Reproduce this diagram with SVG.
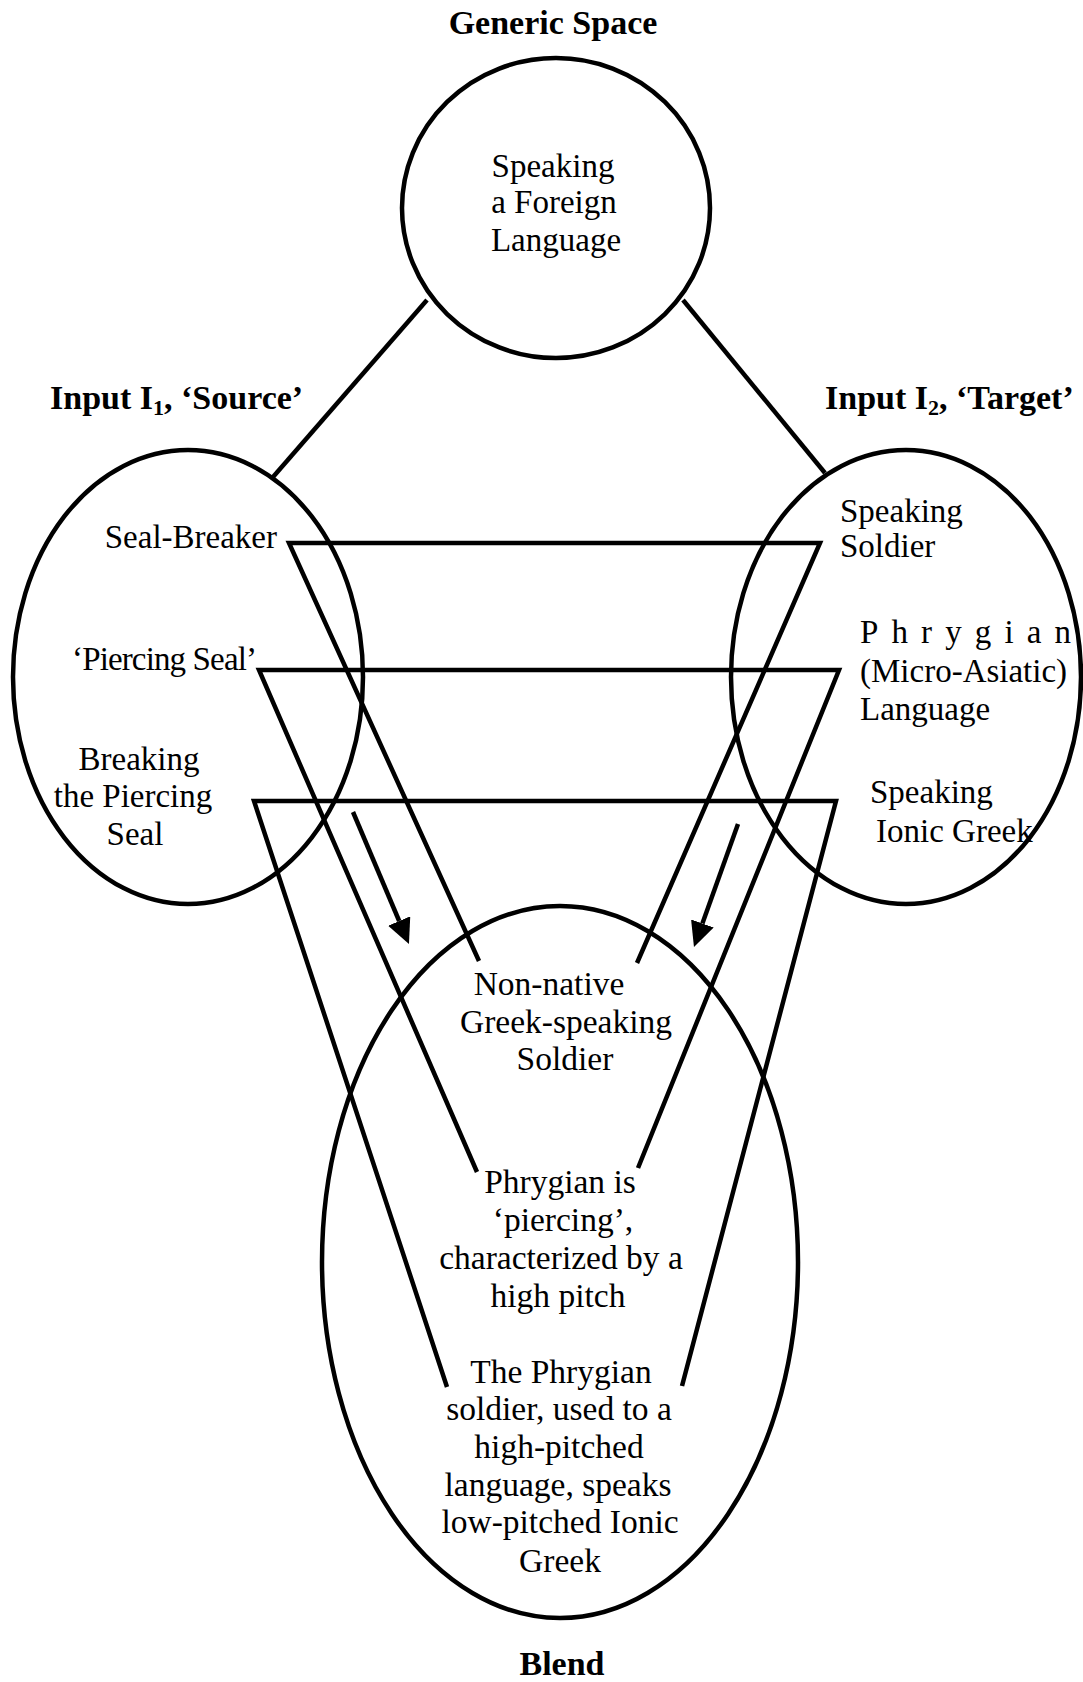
<svg xmlns="http://www.w3.org/2000/svg" width="1083" height="1682" viewBox="0 0 1083 1682">
<style>
  .shape { fill: none; stroke: #000; stroke-width: 4.5; }
  .conn { fill: none; stroke: #000; stroke-width: 4.5; stroke-linejoin: miter; }
  .t { font-family: "Liberation Serif", "Times New Roman", serif; font-size: 33px; fill: #000; }
  .b { font-family: "Liberation Serif", "Times New Roman", serif; font-size: 34px; font-weight: bold; fill: #000; }
  .m { text-anchor: middle; }
  .e { text-anchor: end; }
  .bl { font-size: 33.5px; }
</style>
<defs>
  <marker id="arrow" markerUnits="userSpaceOnUse" viewBox="0 0 25 24" refX="0" refY="12" markerWidth="25" markerHeight="24" orient="auto">
    <path d="M0,0 L25,12 L0,24 z" fill="#000"/>
  </marker>
</defs>
<rect x="0" y="0" width="1083" height="1682" fill="#fff"/>

<g id="connectors">
  <line class="conn" x1="427" y1="300" x2="273" y2="477"/>
  <line class="conn" x1="683" y1="300" x2="825" y2="473"/>
  <polyline class="conn" points="479,961 289,543 820,543 637,963"/>
  <polyline class="conn" points="477,1172 259,670 839,670 638,1168"/>
  <polyline class="conn" points="447,1387 254,801 836,801 682,1386"/>
  <line class="conn" x1="353" y1="812" x2="399.2" y2="921" marker-end="url(#arrow)"/>
  <line class="conn" x1="738" y1="824" x2="702.4" y2="923.5" marker-end="url(#arrow)"/>
</g>

<g id="generic">
  <text class="b m" x="553" y="34">Generic Space</text>
  <ellipse class="shape" cx="556" cy="208" rx="154" ry="150"/>
  <text class="t m" x="553" y="177">Speaking</text>
  <text class="t m" x="554" y="213">a Foreign</text>
  <text class="t m" x="556" y="251">Language</text>
</g>

<g id="input1">
  <text class="b" x="50" y="409">Input I<tspan font-size="22" dy="6">1</tspan><tspan dy="-6">, ‘Source’</tspan></text>
  <ellipse class="shape" cx="188" cy="677" rx="175" ry="227"/>
  <text class="t e" x="277" y="548">Seal-Breaker</text>
  <text class="t" x="72" y="670" textLength="185" lengthAdjust="spacing">‘Piercing Seal’</text>
  <text class="t m" x="139" y="770">Breaking</text>
  <text class="t m" x="133" y="807">the Piercing</text>
  <text class="t m" x="135" y="845">Seal</text>
</g>

<g id="input2">
  <text class="b" x="825" y="409">Input I<tspan font-size="22" dy="6">2</tspan><tspan dy="-6">, ‘Target’</tspan></text>
  <ellipse class="shape" cx="906" cy="677" rx="175" ry="227"/>
  <text class="t" x="840" y="522">Speaking</text>
  <text class="t" x="840" y="557">Soldier</text>
  <text class="t" x="860" y="643" textLength="211" lengthAdjust="spacing">Phrygian</text>
  <text class="t" x="860" y="682">(Micro-Asiatic)</text>
  <text class="t" x="860" y="720">Language</text>
  <text class="t" x="870" y="803">Speaking</text>
  <text class="t" x="876" y="842">Ionic Greek</text>
</g>

<g id="blend">
  <ellipse class="shape" cx="560" cy="1262" rx="238" ry="356"/>
  <text class="t bl m" x="549" y="995">Non-native</text>
  <text class="t bl m" x="566" y="1033">Greek-speaking</text>
  <text class="t bl m" x="565" y="1070">Soldier</text>
  <text class="t bl m" x="560" y="1193">Phrygian is</text>
  <text class="t bl m" x="563" y="1231">‘piercing’,</text>
  <text class="t bl m" x="561" y="1269">characterized by a</text>
  <text class="t bl m" x="558" y="1307">high pitch</text>
  <text class="t bl m" x="561" y="1383">The Phrygian</text>
  <text class="t bl m" x="559" y="1420">soldier, used to a</text>
  <text class="t bl m" x="559" y="1458">high-pitched</text>
  <text class="t bl m" x="558" y="1496">language, speaks</text>
  <text class="t bl m" x="560" y="1533">low-pitched Ionic</text>
  <text class="t bl m" x="560" y="1572">Greek</text>
  <text class="b m" x="562" y="1675">Blend</text>
</g>
</svg>
